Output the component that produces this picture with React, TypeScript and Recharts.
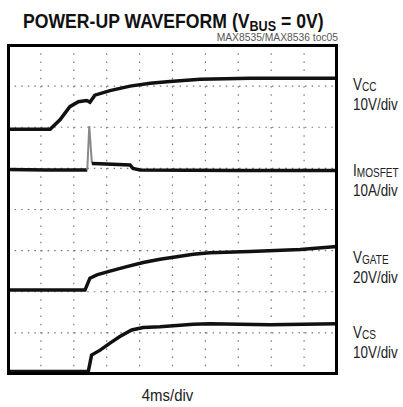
import React from "react";
import { ComposedChart, Line, XAxis, YAxis, CartesianGrid } from "recharts";

// scope screen: 10 horizontal divisions (4ms/div), 8 vertical divisions
const X_TICKS = [0, 1, 2, 3, 4, 5, 6, 7, 8, 9, 10];
const Y_TICKS = [0, 1, 2, 3, 4, 5, 6, 7, 8];

// traces, t and v in screen divisions
const vcc = [
  { t: 0, v: 5.95 }, { t: 1.28, v: 5.95 }, { t: 1.58, v: 6.18 }, { t: 1.88, v: 6.5 },
  { t: 2.14, v: 6.62 }, { t: 2.39, v: 6.65 }, { t: 2.49, v: 6.61 }, { t: 2.64, v: 6.78 },
  { t: 3.1, v: 6.89 }, { t: 3.71, v: 7.0 }, { t: 4.32, v: 7.07 }, { t: 4.92, v: 7.11 },
  { t: 5.84, v: 7.17 }, { t: 7.36, v: 7.19 }, { t: 8.88, v: 7.19 }, { t: 10, v: 7.19 },
];

const imosfetPre = [
  { t: 0, v: 4.97 }, { t: 1.2, v: 4.96 }, { t: 2.41, v: 4.96 },
];
const imosfetSpike = [
  { t: 2.41, v: 4.96 }, { t: 2.47, v: 6.03 }, { t: 2.55, v: 5.12 },
];
const imosfetPost = [
  { t: 2.55, v: 5.12 }, { t: 2.8, v: 5.11 }, { t: 3.71, v: 5.08 }, { t: 3.8, v: 5.0 },
  { t: 4.01, v: 4.96 }, { t: 7.0, v: 4.95 }, { t: 10, v: 4.95 },
];

const vgate = [
  { t: 0, v: 2.04 }, { t: 2.34, v: 2.04 }, { t: 2.49, v: 2.33 }, { t: 2.7, v: 2.41 },
  { t: 3.1, v: 2.5 }, { t: 3.61, v: 2.61 }, { t: 4.11, v: 2.71 }, { t: 4.62, v: 2.79 },
  { t: 5.13, v: 2.85 }, { t: 5.63, v: 2.91 }, { t: 6.14, v: 2.95 }, { t: 7.36, v: 2.98 },
  { t: 8.88, v: 3.03 }, { t: 10, v: 3.1 },
];

const vcs = [
  { t: 0, v: 0.06 }, { t: 2.44, v: 0.06 }, { t: 2.54, v: 0.46 }, { t: 2.8, v: 0.58 },
  { t: 3.1, v: 0.75 }, { t: 3.4, v: 0.91 }, { t: 3.76, v: 1.07 }, { t: 4.11, v: 1.13 },
  { t: 4.62, v: 1.15 }, { t: 5.13, v: 1.18 }, { t: 5.63, v: 1.21 }, { t: 6.14, v: 1.22 },
  { t: 7.96, v: 1.2 }, { t: 10, v: 1.22 },
];

// no Arial Narrow here, so squeeze Liberation Sans
const SANS = "'Liberation Sans', Arial, sans-serif";

function Narrow({ x, y, size, sx = 0.84, anchor, children }: { x: number; y: number; size: number; sx?: number; anchor?: string; children: React.ReactNode }) {
  return (
    <text
      transform={`translate(${x},${y}) scale(${sx},1)`}
      fontFamily={SANS}
      fontSize={size}
      textAnchor={anchor}
      fill="#222"
    >
      {children}
    </text>
  );
}

function ChannelLabel({ x, y, main, sub, scale }: { x: number; y: number; main: string; sub: string; scale: string }) {
  return (
    <g>
      <Narrow x={x} y={y} size={16}>
        {main}
        <tspan fontSize={12} dy={1}>{sub}</tspan>
      </Narrow>
      <Narrow x={x} y={y + 20} size={16}>{scale}</Narrow>
    </g>
  );
}

const trace = { stroke: "#111", strokeWidth: 3.5, dot: false, isAnimationActive: false };

export default function App() {
  return (
    <div style={{ position: "absolute", left: 0, top: 0, width: 403, height: 407, overflow: "hidden", background: "#fff" }}>
      <ComposedChart width={403} height={407} margin={{ top: 45, right: 66, bottom: 33, left: 8 }}>
        <XAxis dataKey="t" type="number" domain={[0, 10]} ticks={X_TICKS} hide />
        <YAxis type="number" domain={[0, 8]} ticks={Y_TICKS} hide />
        <CartesianGrid horizontal={false} stroke="#777" strokeWidth={1.2} strokeDasharray="1.5 6.7" />
        <CartesianGrid vertical={false} stroke="#777" strokeWidth={1.2} strokeDasharray="1.5 5.1" />
        <Line data={vcc} dataKey="v" {...trace} />
        <Line data={imosfetPre} dataKey="v" {...trace} />
        <Line data={imosfetSpike} dataKey="v" {...trace} stroke="#888" strokeWidth={2} />
        <Line data={imosfetPost} dataKey="v" {...trace} />
        <Line data={vgate} dataKey="v" {...trace} />
        <Line data={vcs} dataKey="v" {...trace} />
      </ComposedChart>
      {/* screen border around the plot area */}
      <div
        style={{
          position: "absolute", left: 7, top: 44, width: 331, height: 331,
          boxSizing: "border-box", border: "3px solid #000", pointerEvents: "none",
        }}
      />
      <svg width={403} height={407} style={{ position: "absolute", left: 0, top: 0, pointerEvents: "none" }}>
        <text transform="translate(23,28) scale(0.84,1)" fontFamily={SANS} fontWeight="bold" fontSize={21} fill="#111">
          POWER-UP WAVEFORM (V
          <tspan fontSize={15} dy={3}>BUS</tspan>
          <tspan dy={-3}> = 0V)</tspan>
        </text>
        <text x={338} y={41} textAnchor="end" fontFamily={SANS} fontSize={10.3} fill="#555">
          MAX8535/MAX8536 toc05
        </text>
        <ChannelLabel x={353} y={90} main="V" sub="CC" scale="10V/div" />
        <ChannelLabel x={353} y={175.5} main="I" sub="MOSFET" scale="10A/div" />
        <ChannelLabel x={353} y={263} main="V" sub="GATE" scale="20V/div" />
        <ChannelLabel x={353} y={338} main="V" sub="CS" scale="10V/div" />
        <Narrow x={167.5} y={400.5} size={17} sx={0.88} anchor="middle">4ms/div</Narrow>
      </svg>
    </div>
  );
}
